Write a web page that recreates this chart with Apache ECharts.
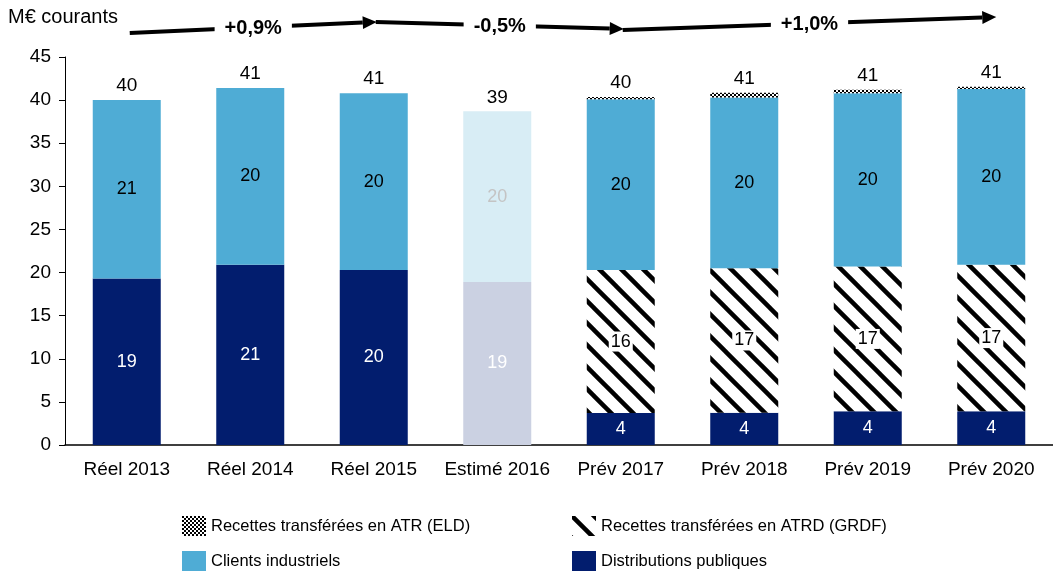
<!DOCTYPE html>
<html>
<head>
<meta charset="utf-8">
<script src="https://cdn.jsdelivr.net/npm/echarts@6/dist/echarts.min.js"></script>
<style>
  html, body { margin: 0; padding: 0; background: #fff; }
  #chart { width: 1053px; height: 574px; }
</style>
</head>
<body>
<div id="chart"></div>
<script>
const categories = ['Réel 2013', 'Réel 2014', 'Réel 2015', 'Estimé 2016', 'Prév 2017', 'Prév 2018', 'Prév 2019', 'Prév 2020']
const distributions = [19.3, 20.9, 20.3, 18.9, 3.7, 3.75, 3.9, 3.9]
const atrd = [null, null, null, null, 16.6, 16.75, 16.8, 17.0]
const industriels = [20.7, 20.5, 20.5, 19.8, 19.8, 19.8, 20.1, 20.4]
const eld = [null, null, null, null, 0.25, 0.55, 0.4, 0.25]
const distLabels = ['19', '21', '20', '19', '4', '4', '4', '4']
const atrdLabels = ['', '', '', '', '16', '17', '17', '17']
const indLabels = ['21', '20', '20', '20', '20', '20', '20', '20']
const totalLabels = ['40', '41', '41', '39', '40', '41', '41', '41']
const trends = [
  { from: 0, to: 2, label: '+0,9%' },
  { from: 2, to: 4, label: '-0,5%' },
  { from: 4, to: 7, label: '+1,0%' }
]
const estimatedIndex = 3

const FONT = "'Liberation Sans', Arial, sans-serif"
const NAVY = '#021D6E'
const SKY = '#4FACD5'
const LABEL_SIZE = 19

const hatchPattern = () => {
  const c = document.createElement('canvas')
  c.width = 22
  c.height = 22
  const ctx = c.getContext('2d')
  ctx.fillStyle = '#fff'
  ctx.fillRect(0, 0, 22, 22)
  ctx.strokeStyle = '#000'
  ctx.lineWidth = 4.5
  for (const off of [-22, 0, 22]) {
    ctx.beginPath()
    ctx.moveTo(-2, off - 2)
    ctx.lineTo(24, off + 24)
    ctx.stroke()
  }
  return { image: c, repeat: 'repeat' }
}

const checkerPattern = () => {
  const c = document.createElement('canvas')
  c.width = 4
  c.height = 4
  const ctx = c.getContext('2d')
  ctx.fillStyle = '#fff'
  ctx.fillRect(0, 0, 4, 4)
  ctx.fillStyle = '#000'
  ctx.fillRect(0, 0, 2, 2)
  ctx.fillRect(2, 2, 2, 2)
  return { image: c, repeat: 'repeat' }
}

const sum = (i) => [distributions, atrd, industriels, eld].reduce((s, arr) => s + (arr[i] || 0), 0)
const totals = categories.map((_, i) => sum(i))

const withStyle = (values, labels, faded) => values.map((v, i) => {
  const item = { value: v, labelText: labels[i] }
  if (i === estimatedIndex && faded) {
    item.itemStyle = { color: faded.color }
    item.label = { color: faded.label }
  }
  return item
})

const legendBase = {
  top: 516, orient: 'vertical', icon: 'rect', padding: 0,
  itemWidth: 24, itemHeight: 20, itemGap: 15, selectedMode: false,
  textStyle: { fontSize: 16.5, color: '#000', fontFamily: FONT }
}

let chart = echarts.init(document.getElementById('chart'))

const option = {
  animation: false,
  textStyle: { fontFamily: FONT },
  title: {
    text: 'M€ courants',
    left: 8,
    top: 7,
    padding: 0,
    textStyle: { fontSize: 20, fontWeight: 'normal', color: '#000', fontFamily: FONT }
  },
  grid: { left: 65, right: 0, top: 57, bottom: 129, containLabel: false },
  legend: [
    Object.assign({ left: 182, data: ['Recettes transférées en ATR (ELD)', 'Clients industriels'] }, legendBase),
    Object.assign({ left: 572, data: ['Recettes transférées en ATRD (GRDF)', 'Distributions publiques'] }, legendBase)
  ],
  xAxis: {
    type: 'category',
    data: categories,
    axisLine: { lineStyle: { color: '#000', width: 1.5 } },
    axisTick: { show: false },
    axisLabel: { color: '#000', fontSize: LABEL_SIZE, margin: 15, interval: 0, fontFamily: FONT }
  },
  yAxis: {
    type: 'value',
    min: 0,
    max: 45,
    interval: 5,
    axisLine: { show: true, lineStyle: { color: '#000' } },
    axisTick: { show: true, length: 6, lineStyle: { color: '#000' } },
    splitLine: { show: false },
    axisLabel: { color: '#000', fontSize: LABEL_SIZE, margin: 14, fontFamily: FONT }
  },
  series: [
    {
      name: 'Distributions publiques',
      type: 'bar',
      stack: 'total',
      barWidth: 68,
      itemStyle: { color: NAVY },
      label: { show: true, position: 'inside', color: '#fff', fontSize: 18, formatter: (p) => p.data.labelText },
      data: withStyle(distributions, distLabels, { color: '#CBD1E2', label: '#fff' })
    },
    {
      name: 'Recettes transférées en ATRD (GRDF)',
      type: 'bar',
      stack: 'total',
      barWidth: 68,
      itemStyle: { color: hatchPattern() },
      label: {
        show: true, position: 'inside', color: '#000', fontSize: 18,
        backgroundColor: '#fff', padding: [1, 2],
        formatter: (p) => p.data.labelText
      },
      data: withStyle(atrd, atrdLabels)
    },
    {
      name: 'Clients industriels',
      type: 'bar',
      stack: 'total',
      barWidth: 68,
      itemStyle: { color: SKY },
      label: { show: true, position: 'inside', color: '#000', fontSize: 18, formatter: (p) => p.data.labelText },
      data: withStyle(industriels, indLabels, { color: '#D8EDF5', label: '#C4C4C4' })
    },
    {
      name: 'Recettes transférées en ATR (ELD)',
      type: 'bar',
      stack: 'total',
      barWidth: 68,
      itemStyle: { color: checkerPattern() },
      data: eld
    },
    {
      name: 'Total',
      type: 'scatter',
      symbolSize: 1,
      itemStyle: { color: 'rgba(0,0,0,0)' },
      label: {
        show: true, position: 'top', distance: 4, color: '#000', opacity: 1,
        fontSize: LABEL_SIZE, textBorderWidth: 0,
        formatter: (p) => totalLabels[p.dataIndex]
      },
      data: totals
    }
  ]
}

chart.setOption(option)

const arrowGraphic = (x0, y0, x1, y1, text) => {
  const ang = Math.atan2(y1 - y0, x1 - x0)
  const head = 14, half = 6.5
  const bx = x1 - head * Math.cos(ang), by = y1 - head * Math.sin(ang)
  const nx = -Math.sin(ang), ny = Math.cos(ang)
  return [
    { type: 'line', shape: { x1: x0, y1: y0, x2: bx, y2: by }, style: { stroke: '#000', lineWidth: 4 } },
    { type: 'polygon', shape: { points: [[x1, y1], [bx + nx * half, by + ny * half], [bx - nx * half, by - ny * half]] }, style: { fill: '#000' } },
    {
      type: 'text', x: (x0 + x1) / 2, y: (y0 + y1) / 2 + 1,
      style: {
        text: text, fill: '#000', font: 'bold 20px ' + FONT,
        align: 'center', verticalAlign: 'middle',
        backgroundColor: '#fff', padding: [3, 10]
      }
    }
  ]
}

// trend arrows hang above the bars, anchored on the category centres
const arrowYs = [[33, 22], [22, 29], [30, 17]]
let elements = []
trends.forEach((t, k) => {
  const xa = chart.convertToPixel({ xAxisIndex: 0 }, categories[t.from]) + (k === 0 ? 3 : 2)
  const xb = chart.convertToPixel({ xAxisIndex: 0 }, categories[t.to]) + (k === 2 ? 5 : 3)
  elements = elements.concat(arrowGraphic(xa, arrowYs[k][0], xb, arrowYs[k][1], t.label))
})
chart.setOption({ graphic: elements })
</script>
</body>
</html>
